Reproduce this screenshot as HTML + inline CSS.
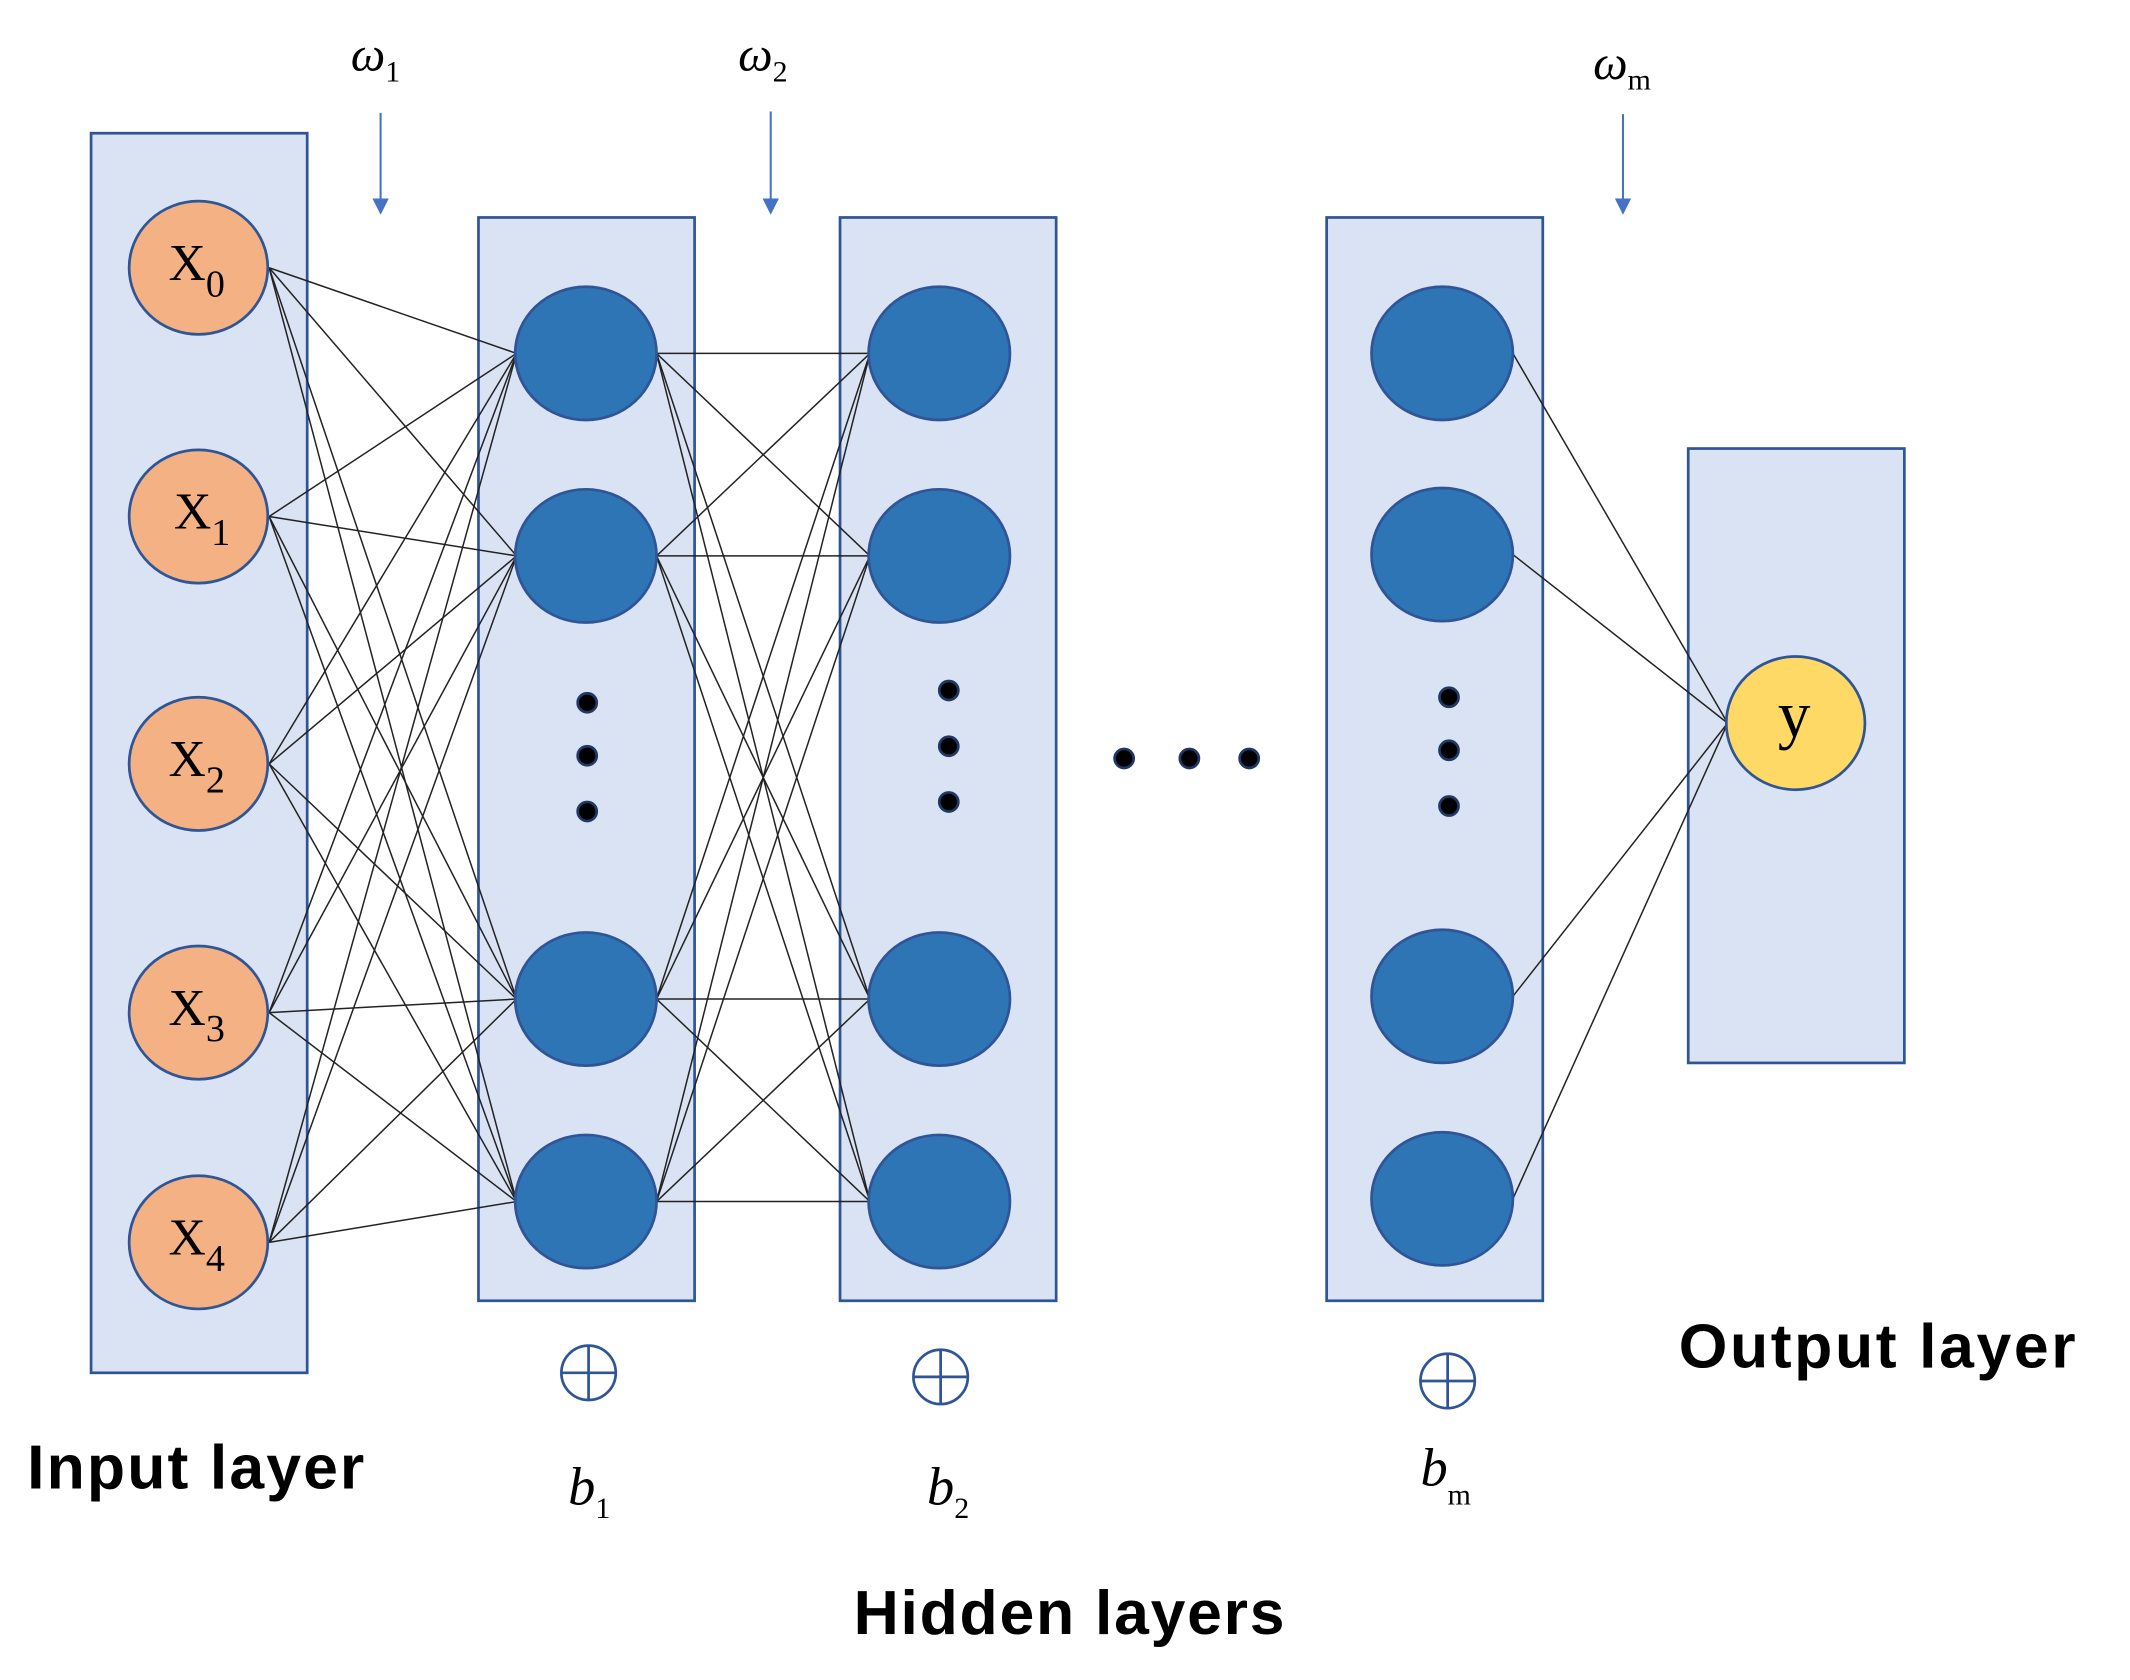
<!DOCTYPE html>
<html><head><meta charset="utf-8"><style>html,body{margin:0;padding:0;background:#fff}svg{display:block}</style></head>
<body>
<svg width="2130" height="1680" viewBox="0 0 1567 1236" preserveAspectRatio="none" xmlns="http://www.w3.org/2000/svg">
<g fill="#DAE3F3" stroke="#2F5597" stroke-width="2">
<rect x="67" y="98" width="159" height="912"/>
<rect x="352" y="160" width="159" height="797"/>
<rect x="618" y="160" width="159" height="797"/>
<rect x="976" y="160" width="159" height="797"/>
<rect x="1242" y="330" width="159" height="452"/>
</g>
<g stroke="#222" stroke-width="1.1">
<line x1="198" y1="197" x2="380" y2="260"/><line x1="198" y1="197" x2="380" y2="409"/><line x1="198" y1="197" x2="380" y2="735"/><line x1="198" y1="197" x2="380" y2="884"/>
<line x1="198" y1="380" x2="380" y2="260"/><line x1="198" y1="380" x2="380" y2="409"/><line x1="198" y1="380" x2="380" y2="735"/><line x1="198" y1="380" x2="380" y2="884"/>
<line x1="198" y1="562" x2="380" y2="260"/><line x1="198" y1="562" x2="380" y2="409"/><line x1="198" y1="562" x2="380" y2="735"/><line x1="198" y1="562" x2="380" y2="884"/>
<line x1="198" y1="745" x2="380" y2="260"/><line x1="198" y1="745" x2="380" y2="409"/><line x1="198" y1="745" x2="380" y2="735"/><line x1="198" y1="745" x2="380" y2="884"/>
<line x1="198" y1="914" x2="380" y2="260"/><line x1="198" y1="914" x2="380" y2="409"/><line x1="198" y1="914" x2="380" y2="735"/><line x1="198" y1="914" x2="380" y2="884"/>
<line x1="483" y1="260" x2="640" y2="260"/><line x1="483" y1="260" x2="640" y2="409"/><line x1="483" y1="260" x2="640" y2="735"/><line x1="483" y1="260" x2="640" y2="884"/>
<line x1="483" y1="409" x2="640" y2="260"/><line x1="483" y1="409" x2="640" y2="409"/><line x1="483" y1="409" x2="640" y2="735"/><line x1="483" y1="409" x2="640" y2="884"/>
<line x1="483" y1="735" x2="640" y2="260"/><line x1="483" y1="735" x2="640" y2="409"/><line x1="483" y1="735" x2="640" y2="735"/><line x1="483" y1="735" x2="640" y2="884"/>
<line x1="483" y1="884" x2="640" y2="260"/><line x1="483" y1="884" x2="640" y2="409"/><line x1="483" y1="884" x2="640" y2="735"/><line x1="483" y1="884" x2="640" y2="884"/>
<line x1="1113" y1="260" x2="1271" y2="532"/><line x1="1113" y1="408" x2="1271" y2="532"/><line x1="1113" y1="733" x2="1271" y2="532"/><line x1="1113" y1="882" x2="1271" y2="532"/>
</g>
<g stroke="#4472C4" stroke-width="1.5">
<line x1="280" y1="83" x2="280" y2="148"/><line x1="567" y1="82" x2="567" y2="148"/><line x1="1194" y1="84" x2="1194" y2="148"/>
</g>
<g fill="#4472C4">
<path d="M274 146H286L280 158z"/><path d="M561 146H573L567 158z"/><path d="M1188 146H1200L1194 158z"/>
</g>
<g fill="#F4B183" stroke="#2F5597" stroke-width="2">
<ellipse cx="146" cy="197" rx="51" ry="49"/><ellipse cx="146" cy="380" rx="51" ry="49"/><ellipse cx="146" cy="562" rx="51" ry="49"/><ellipse cx="146" cy="745" rx="51" ry="49"/><ellipse cx="146" cy="914" rx="51" ry="49"/>
</g>
<g fill="#2E75B6" stroke="#2F5597" stroke-width="2">
<ellipse cx="431" cy="260" rx="52" ry="49"/><ellipse cx="431" cy="409" rx="52" ry="49"/><ellipse cx="431" cy="735" rx="52" ry="49"/><ellipse cx="431" cy="884" rx="52" ry="49"/>
<ellipse cx="691" cy="260" rx="52" ry="49"/><ellipse cx="691" cy="409" rx="52" ry="49"/><ellipse cx="691" cy="735" rx="52" ry="49"/><ellipse cx="691" cy="884" rx="52" ry="49"/>
<ellipse cx="1061" cy="260" rx="52" ry="49"/><ellipse cx="1061" cy="408" rx="52" ry="49"/><ellipse cx="1061" cy="733" rx="52" ry="49"/><ellipse cx="1061" cy="882" rx="52" ry="49"/>
</g>
<ellipse cx="1321" cy="532" rx="51" ry="49" fill="#FFD966" stroke="#2F5597" stroke-width="2"/>
<g fill="#000" stroke="#1F3864" stroke-width="2">
<circle cx="432" cy="517" r="7"/><circle cx="432" cy="556" r="7"/><circle cx="432" cy="597" r="7"/>
<circle cx="698" cy="508" r="7"/><circle cx="698" cy="549" r="7"/><circle cx="698" cy="590" r="7"/>
<circle cx="1066" cy="513" r="7"/><circle cx="1066" cy="552" r="7"/><circle cx="1066" cy="593" r="7"/>
<circle cx="827" cy="558" r="7"/><circle cx="875" cy="558" r="7"/><circle cx="919" cy="558" r="7"/>
</g>
<g fill="none" stroke="#2F5597" stroke-width="2">
<circle cx="433" cy="1010" r="20"/><path d="M413 1010H453M433 990V1030"/>
<circle cx="692" cy="1013" r="20"/><path d="M672 1013H712M692 993V1033"/>
<circle cx="1065" cy="1016" r="20"/><path d="M1045 1016H1085M1065 996V1036"/>
</g>
<g font-family="Liberation Serif, serif" fill="#000">
<text x="124" y="206" font-size="38">X<tspan font-size="28" dy="12">0</tspan></text>
<text x="128" y="389" font-size="38">X<tspan font-size="28" dy="12">1</tspan></text>
<text x="124" y="571" font-size="38">X<tspan font-size="28" dy="12">2</tspan></text>
<text x="124" y="754" font-size="38">X<tspan font-size="28" dy="12">3</tspan></text>
<text x="124" y="923" font-size="38">X<tspan font-size="28" dy="12">4</tspan></text>
<text x="1308" y="542" font-size="48">y</text>
<text x="258" y="52" font-size="36" font-style="italic">ω<tspan font-size="22" font-style="normal" dy="8">1</tspan></text>
<text x="543" y="52" font-size="36" font-style="italic">ω<tspan font-size="22" font-style="normal" dy="8">2</tspan></text>
<text x="1172" y="58" font-size="36" font-style="italic">ω<tspan font-size="22" font-style="normal" dy="8">m</tspan></text>
<text x="418" y="1107" font-size="40" font-style="italic">b<tspan font-size="22" font-style="normal" dy="10">1</tspan></text>
<text x="682" y="1107" font-size="40" font-style="italic">b<tspan font-size="22" font-style="normal" dy="10">2</tspan></text>
<text x="1045" y="1093" font-size="40" font-style="italic">b<tspan font-size="22" font-style="normal" dy="14">m</tspan></text>
</g>
<g font-family="Liberation Sans, sans-serif" font-weight="bold" font-size="46" fill="#000">
<text x="20" y="1095" textLength="248">Input layer</text>
<text x="1235" y="1006" textLength="292">Output layer</text>
<text x="628" y="1202" textLength="317">Hidden layers</text>
</g>
</svg>
</body></html>
